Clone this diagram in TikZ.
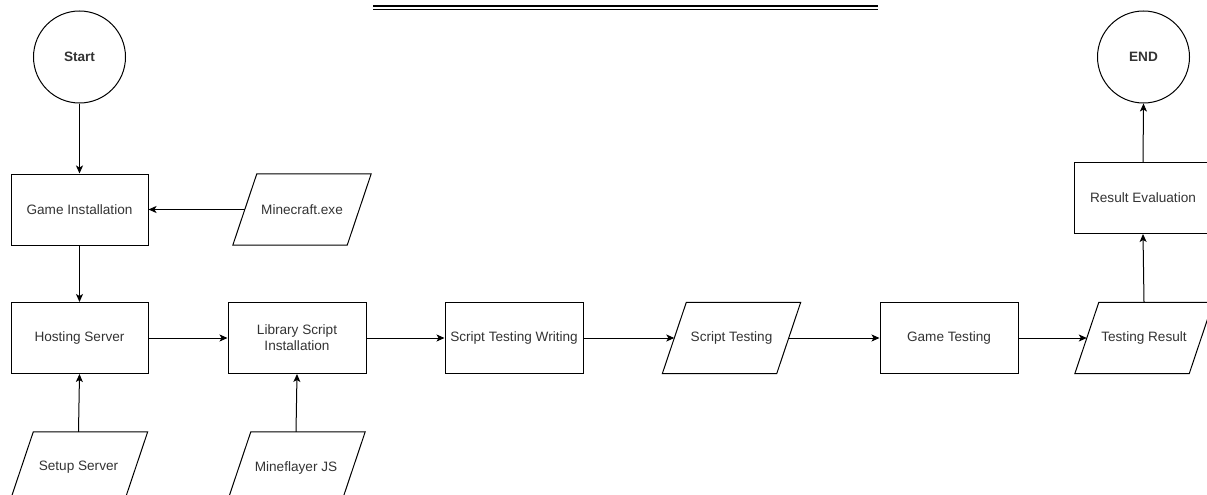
\documentclass[tikz,border=0pt]{standalone}
\usepackage{fontspec}
\setmainfont{Liberation Sans}
\usetikzlibrary{arrows.meta,calc}
\definecolor{txt}{HTML}{333333}
\tikzset{
  base/.style={font=\fontsize{13.6}{16}\selectfont, text=txt, align=center, inner sep=0pt,
    minimum width=138pt, minimum height=71pt, rectangle},
  proc/.style={base, draw, line width=1pt},
  io/.style={base},
  term/.style={circle, draw, line width=1pt, minimum size=92pt, inner sep=0pt,
    font=\fontsize{13.6}{16}\selectfont\bfseries, text=txt},
  conn/.style={line width=1pt, -{Stealth[length=8pt,width=7pt,inset=2pt]}},
  boxline/.style={line width=1pt},
}
\newcommand\ioshape[1]{\draw[boxline] ([xshift=24pt]#1.north west) -- (#1.north east) -- ([xshift=-24pt]#1.south east) -- (#1.south west) -- cycle;}
\begin{document}
\begin{tikzpicture}[x=1pt,y=-1pt]
\useasboundingbox (0,0) rectangle (1207,495);
\clip (0,0) rectangle (1207,495);
% top rules
\draw[line width=2pt] (373,6) -- (878,6);
\draw[line width=1pt] (373,9.5) -- (878,9.5);
% nodes
\node[term] (start) at (79.5,57) {Start};
\node[proc, minimum width=137pt] (gi) at (79.5,209.5) {Game Installation};
\node[io] (mc) at (302,209.5) {Minecraft.exe};
\node[proc, minimum width=137pt] (hs) at (79.5,338) {Hosting Server};
\node[proc] (lsi) at (297,338) {Library Script\\Installation};
\node[io] (ss) at (78.5,467.5) {Setup Server};
\node[io] (mj) at (296,467.5) {Mineflayer JS};
\node[proc] (stw) at (514,338) {Script Testing Writing};
\node[io] (st) at (731.5,338) {Script Testing};
\node[proc] (gt) at (949,338) {Game Testing};
\node[io] (tr) at (1144,338) {Testing Result};
\node[proc] (re) at (1143,198) {Result Evaluation};
\node[term] (end) at (1143.5,57) {END};
\ioshape{mc}
\ioshape{ss}
\ioshape{mj}
\ioshape{st}
\ioshape{tr}
% connectors
\draw[conn] (start) -- (gi);
\draw[conn] ([xshift=12pt]mc.west) -- (gi.east);
\draw[conn] (gi) -- (hs);
\draw[conn] (ss.north) -- (hs.south);
\draw[conn] (hs.east) -- (lsi.west);
\draw[conn] (mj.north) -- (lsi.south);
\draw[conn] (lsi.east) -- (stw.west);
\draw[conn] (stw.east) -- ([xshift=12pt]st.west);
\draw[conn] ([xshift=-12pt]st.east) -- (gt.west);
\draw[conn] (gt.east) -- ([xshift=12pt]tr.west);
\draw[conn] (tr.north) -- (re.south);
\draw[conn] (re.north) -- (end.south);
\end{tikzpicture}
\end{document}
